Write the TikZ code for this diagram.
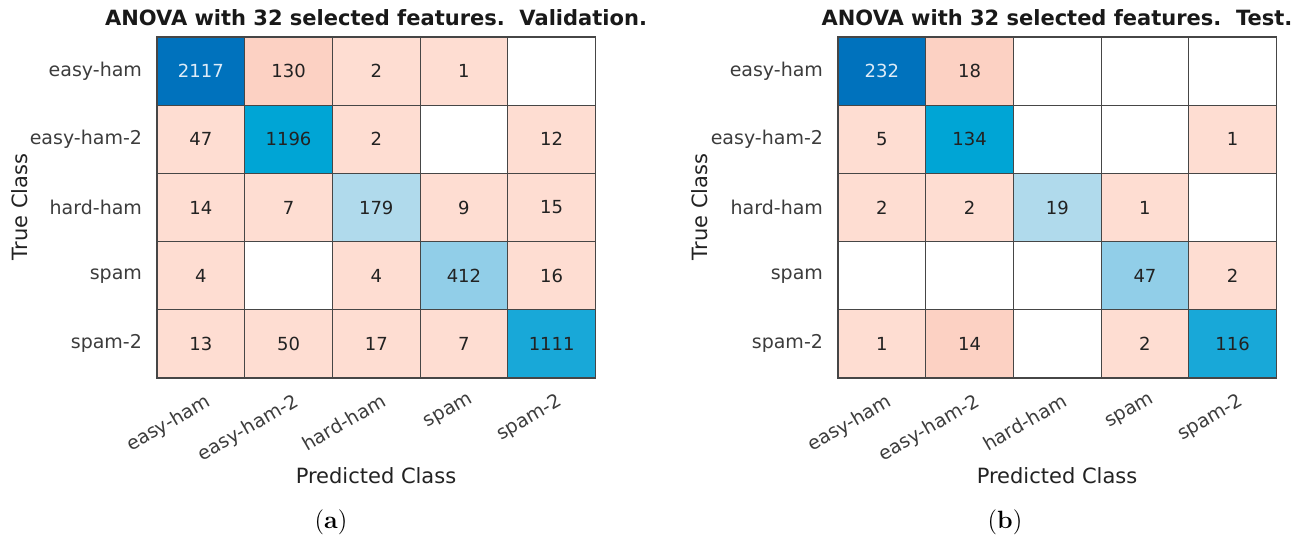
\documentclass[tikz,border=0pt]{standalone}
\usepackage{fontspec}
\newfontfamily\plotfont{DejaVu Sans}
\definecolor{cmdark}{RGB}{0,114,189}
\definecolor{cmmid}{RGB}{0,165,213}
\definecolor{cmmidb}{RGB}{24,168,216}
\definecolor{cmlight}{RGB}{145,206,232}
\definecolor{cmpale}{RGB}{176,218,236}
\definecolor{cmpink}{RGB}{254,221,210}
\definecolor{cmpinkb}{RGB}{252,209,195}
\definecolor{gridgray}{RGB}{70,70,70}
\definecolor{txtgray}{RGB}{34,34,34}
\definecolor{labgray}{RGB}{60,60,60}
\definecolor{lighttxt}{RGB}{222,236,248}

\begin{document}
\begin{tikzpicture}[x=0.5pt,y=-0.5pt,
  cell/.style={draw=gridgray,line width=0.6pt,minimum width=43.85pt,minimum height=34.1pt,
    inner sep=0pt,font=\plotfont\fontsize{9}{11}\selectfont,text=txtgray},
  offd/.style={fill=cmpink},
  offdd/.style={fill=cmpinkb},
  nocell/.style={fill=white},
  diagA/.style={fill=cmdark,text=lighttxt},
  diagB/.style={fill=cmmid},
  diagC/.style={fill=cmmidb},
  diagD/.style={fill=cmlight},
  diagE/.style={fill=cmpale},
  rowlab/.style={anchor=east,font=\plotfont\fontsize{9.5}{11}\selectfont,text=labgray},
  collab/.style={anchor=north east,rotate=30,inner sep=0pt,font=\plotfont\fontsize{9.5}{11}\selectfont,text=labgray},
  axlab/.style={font=\plotfont\fontsize{10.5}{12}\selectfont,text=txtgray},
  ttl/.style={font=\plotfont\bfseries\fontsize{10.5}{12}\selectfont,text=black!90}]
\useasboundingbox (0,0) rectangle (1307,544);

% validation matrix
\foreach \r/\c/\v/\s in {1/1/2117/diagA,1/2/130/offdd,1/3/2/offd,1/4/1/offd,1/5//nocell,
  2/1/47/offd,2/2/1196/diagB,2/3/2/offd,2/4//nocell,2/5/12/offd,
  3/1/14/offd,3/2/7/offd,3/3/179/diagE,3/4/9/offd,3/5/15/offd,
  4/1/4/offd,4/2//nocell,4/3/4/offd,4/4/412/diagD,4/5/16/offd,
  5/1/13/offd,5/2/50/offd,5/3/17/offd,5/4/7/offd,5/5/1111/diagC}
  \node[cell,\s] (va-\r-\c) at ({157+87.7*(\c-0.5)},{37+68.2*(\r-0.5)}) {\v};

% test matrix
\foreach \r/\c/\v/\s in {1/1/232/diagA,1/2/18/offdd,1/3//nocell,1/4//nocell,1/5//nocell,
  2/1/5/offd,2/2/134/diagB,2/3//nocell,2/4//nocell,2/5/1/offd,
  3/1/2/offd,3/2/2/offd,3/3/19/diagE,3/4/1/offd,3/5//nocell,
  4/1//nocell,4/2//nocell,4/3//nocell,4/4/47/diagD,4/5/2/offd,
  5/1/1/offd,5/2/14/offdd,5/3//nocell,5/4/2/offd,5/5/116/diagC}
  \node[cell,\s] (te-\r-\c) at ({838+87.7*(\c-0.5)},{37+68.2*(\r-0.5)}) {\v};

\foreach \r/\n in {1/easy-ham,2/easy-ham-2,3/hard-ham,4/spam,5/spam-2} {
  \node[rowlab] (varow\r) at (149,{37+68.2*(\r-0.5)}) {\n};
  \node[rowlab] (terow\r) at (830,{37+68.2*(\r-0.5)}) {\n};
  \node[collab] (vacol\r) at ({157+87.7*(\r-0.5)+4},392) {\n};
  \node[collab] (tecol\r) at ({838+87.7*(\r-0.5)+4},392) {\n};
}

\node[ttl] (vatitle) at (376,18) {ANOVA with 32 selected features.~~Validation.};
\node[ttl] (tetitle) at (1057,18) {ANOVA with 32 selected features.~~Test.};
\node[axlab,rotate=90] (vatrue) at (20,207) {True Class};
\node[axlab,rotate=90] (tetrue) at (700,207) {True Class};
\node[axlab] (vapred) at (376,476) {Predicted Class};
\node[axlab] (tepred) at (1057,476) {Predicted Class};
\node[font=\fontsize{12.5}{14}\selectfont] (capa) at (331,522) {(\textbf{a})};
\node[font=\fontsize{12.5}{14}\selectfont] (capb) at (1005,522) {(\textbf{b})};
\end{tikzpicture}
\end{document}
